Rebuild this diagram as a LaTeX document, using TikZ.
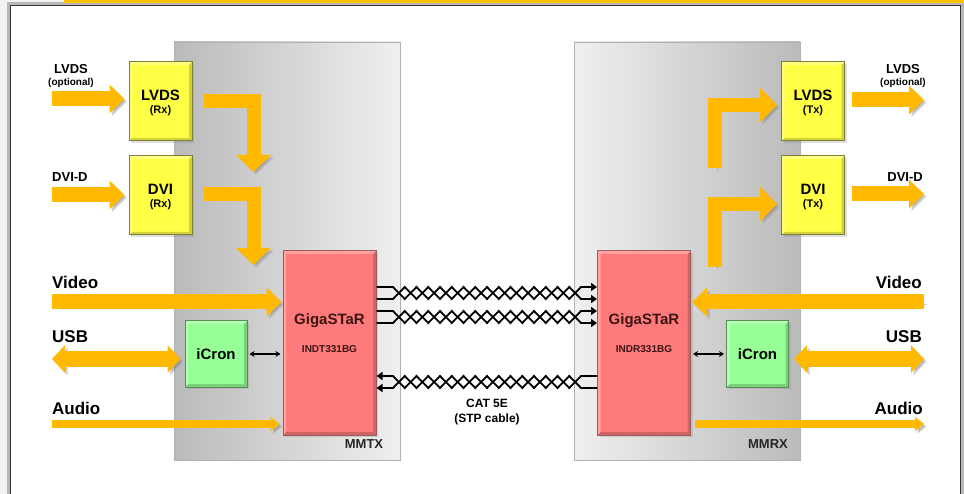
\documentclass[tikz,border=0pt]{standalone}
\usepackage{fontspec}
\setmainfont{Liberation Sans}
\usetikzlibrary{arrows.meta,calc,shadows}
\definecolor{arr}{RGB}{255,185,0}
\definecolor{yelbox}{RGB}{255,255,70}
\definecolor{yelbd}{RGB}{125,125,60}
\definecolor{redbox}{RGB}{255,122,122}
\definecolor{redbd}{RGB}{150,95,95}
\definecolor{grnbox}{RGB}{150,255,150}
\definecolor{grnbd}{RGB}{90,140,90}
\definecolor{topband}{RGB}{255,192,0}
\definecolor{gigatext}{RGB}{60,20,20}
\newcommand\fsz[1]{\fontsize{#1}{#1}\selectfont\bfseries}
\tikzset{
  bevel/.style={path picture={
    \fill[black,opacity=.18] (path picture bounding box.south west) -- (path picture bounding box.south east) -- (path picture bounding box.north east) -- ([shift={(-3pt,-3pt)}]path picture bounding box.north east) -- ([shift={(-3pt,3pt)}]path picture bounding box.south east) -- ([shift={(3pt,3pt)}]path picture bounding box.south west) -- cycle;
    \fill[white,opacity=.3] (path picture bounding box.south west) -- (path picture bounding box.north west) -- (path picture bounding box.north east) -- ([shift={(-3pt,-3pt)}]path picture bounding box.north east) -- ([shift={(3pt,-3pt)}]path picture bounding box.north west) -- ([shift={(3pt,3pt)}]path picture bounding box.south west) -- cycle;
  }},
  box/.style={draw, line width=1pt, inner sep=0pt, bevel,
    drop shadow={shadow xshift=2pt, shadow yshift=-2pt, opacity=.25}},
  ybox/.style={box, fill=yelbox, draw=yelbd, minimum width=63pt, minimum height=79pt},
  rbox/.style={box, fill=redbox, draw=redbd, minimum width=93pt, minimum height=184pt},
  gbox/.style={box, fill=grnbox, draw=grnbd, minimum width=62pt, minimum height=66pt, font=\fsz{15}},
  panel/.style={draw=black!30, line width=0.8pt, minimum width=226pt, minimum height=418pt, inner sep=0pt},
  txt/.style={inner sep=0pt, font=\fsz{#1}},
  shad/.style={preaction={draw=black!50, opacity=.35, transform canvas={shift={(2.5pt,-2.5pt)}}}},
  fat/.style={draw=arr, line width=15pt, shad, -{Triangle[length=15pt 0, width=28pt 0]}},
  fatL/.style={draw=arr, line width=14pt, shad, -{Triangle[length=17pt 0, width=34pt 0]}},
  fatD/.style={draw=arr, line width=15pt, shad, {Triangle[length=13pt 0, width=27pt 0]}-{Triangle[length=13pt 0, width=27pt 0]}},
  thin/.style={draw=arr, line width=8pt, shad, -{Triangle[length=9pt 0, width=14pt 0]}},
  wire/.style={line width=1.8pt, black, line join=miter},
  wtip/.style={-{Triangle[length=6pt 0, width=8pt 0]}},
  smallar/.style={line width=1.4pt, {Stealth[length=5pt, width=6pt]}-{Stealth[length=5pt, width=6pt]}, shorten <=2pt, shorten >=2pt},
}
\begin{document}
\begin{tikzpicture}[x=1pt,y=-1pt]
\useasboundingbox (0,0) rectangle (964,494);
% frame
\fill[black!5] (0,0) rectangle (964,494);
\fill[black!28] (7,2.5) rectangle (964,494);
\fill[white] (11,6) rectangle (960,494);
\draw[black!80, line width=1.3pt] (10.5,494) -- (10.5,5.5) -- (960.5,5.5) -- (960.5,494);
\fill[topband] (64,0) rectangle (964,3);

% panels
\node[panel, left color=black!27, right color=black!6] (mmtx) at (287,251) {};
\node[panel, left color=black!6, right color=black!27] (mmrx) at (687,251) {};
\node[txt=13, text=black!85] (mmtxlab) at (364,444) {MMTX};
\node[txt=13, text=black!85] (mmrxlab) at (768,444) {MMRX};

% boxes
\node[ybox] (lvdsrx) at (160.5,101.5) {};
\node[ybox] (dvirx)  at (160.5,195.5) {};
\node[ybox] (lvdstx) at (813,101.5) {};
\node[ybox] (dvitx)  at (813,195.5) {};
\node[txt=15] at (160.5,95) {LVDS};
\node[txt=11] at (160.5,111) {(Rx)};
\node[txt=15] at (160.5,189) {DVI};
\node[txt=11] at (160.5,205) {(Rx)};
\node[txt=15] at (813,95) {LVDS};
\node[txt=11] at (813,111) {(Tx)};
\node[txt=15] at (813,189) {DVI};
\node[txt=11] at (813,205) {(Tx)};

\node[rbox] (gigaL) at (329.5,343) {};
\node[rbox] (gigaR) at (644,343) {};
\node[txt=15, text=gigatext] at (329.5,321) {GigaSTaR};
\node[txt=10, text=gigatext] at (329.5,349) {INDT331BG};
\node[txt=15, text=gigatext] at (644,321) {GigaSTaR};
\node[txt=10, text=gigatext] at (644,349) {INDR331BG};

\node[gbox] (icronL) at (216,354) {iCron};
\node[gbox] (icronR) at (757.5,354) {iCron};

\draw[smallar] (icronL.east) -- (gigaL.west |- icronL.east);
\draw[smallar] (gigaR.east |- icronR.west) -- (icronR.west);

% side labels left
\node[txt=13] at (71,69.5) {LVDS};
\node[txt=10] at (71,83) {(optional)};
\node[txt=13, anchor=west] at (52,177) {DVI-D};
\node[txt=17, anchor=west] at (52,282) {Video};
\node[txt=17, anchor=west] at (52,337) {USB};
\node[txt=17, anchor=west] at (52,408) {Audio};
% side labels right
\node[txt=13] at (903,69.5) {LVDS};
\node[txt=10] at (903,83) {(optional)};
\node[txt=13, anchor=east] at (923,177) {DVI-D};
\node[txt=17, anchor=east] at (922,282) {Video};
\node[txt=17, anchor=east] at (922,337) {USB};
\node[txt=17, anchor=east] at (923,408) {Audio};

% orange arrows left
\draw[fat, shorten >=4pt] (52,99) -- (lvdsrx.west |- 0,99);
\draw[fat, shorten >=4pt] (52,195) -- (dvirx.west |- 0,195);
\draw[fatL, shorten <=11pt] (lvdsrx.east |- 0,101) -| (253.5,172);
\draw[fatL, shorten <=11pt] (dvirx.east |- 0,194) -| (253.5,265);
\draw[fat, shorten >=1pt] (52,302) -- (gigaL.west |- 0,302);
\draw[fatD, shorten >=4pt] (52,359) -- (icronL.west |- 0,359);
\draw[thin, shorten >=3pt] (52,424) -- (gigaL.west |- 0,424);
% orange arrows right
\draw[fat, shorten <=7pt] (lvdstx.east |- 0,100) -- (924,100);
\draw[fat, shorten <=7pt] (dvitx.east |- 0,194) -- (924,194);
\draw[fatL, shorten >=4pt] (715,168) |- (lvdstx.west |- 0,105);
\draw[fatL, shorten >=4pt] (715,267) |- (dvitx.west |- 0,204);
\draw[fat, shorten >=1pt] (924,302) -- (gigaR.east |- 0,302);
\draw[fatD, shorten >=5pt] (924,359) -- (icronR.east |- 0,359);
\draw[thin, shorten <=4pt] (gigaR.east |- 0,424) -- (924,424);

% twisted pairs
\foreach \ya/\yb in {287/299, 311/323}{
  \draw[wire, wtip] (gigaL.east |- 0,\ya) -- (393,\ya)
    \foreach \k in {1,...,16}{ -- ({393+\k*11.75},{\ya+mod(\k,2)*(\yb-\ya)}) }
    -- (gigaR.west |- 0,\ya);
  \draw[wire, wtip] (gigaL.east |- 0,\yb) -- (393,\yb)
    \foreach \k in {1,...,16}{ -- ({393+\k*11.75},{\yb-mod(\k,2)*(\yb-\ya)}) }
    -- (gigaR.west |- 0,\yb);
}
\foreach \ya/\yb in {376/388}{
  \draw[wire, wtip] (gigaR.west |- 0,\ya) -- (581,\ya)
    \foreach \k in {1,...,16}{ -- ({581-\k*11.75},{\ya+mod(\k,2)*(\yb-\ya)}) }
    -- (gigaL.east |- 0,\ya);
  \draw[wire, wtip] (gigaR.west |- 0,\yb) -- (581,\yb)
    \foreach \k in {1,...,16}{ -- ({581-\k*11.75},{\yb-mod(\k,2)*(\yb-\ya)}) }
    -- (gigaL.east |- 0,\yb);
}
\node[txt=12] (cat) at (487,403) {CAT 5E};
\node[txt=12] (stp) at (487,419) {(STP cable)};
\end{tikzpicture}
\end{document}
